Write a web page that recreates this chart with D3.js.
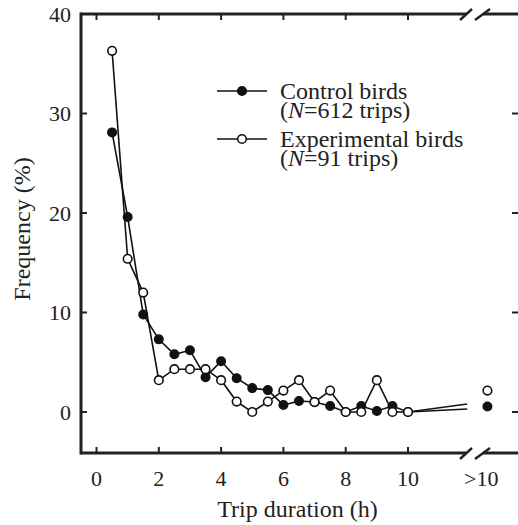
<!DOCTYPE html>
<html>
<head>
<meta charset="utf-8">
<script src="https://cdn.jsdelivr.net/npm/d3@7.9.0/dist/d3.min.js"></script>
<style>
  body { margin: 0; background: #fff; }
  svg { display: block; font-family: "Liberation Serif", "DejaVu Serif", serif; }
</style>
</head>
<body>
<div id="chart"></div>
<script>
// -------- data --------
const hours = [0.5, 1, 1.5, 2, 2.5, 3, 3.5, 4, 4.5, 5, 5.5, 6, 6.5, 7, 7.5, 8, 8.5, 9, 9.5, 10];
const controlPct = [28.1, 19.6, 9.8, 7.3, 5.8, 6.2, 3.5, 5.1, 3.4, 2.4, 2.2, 0.7, 1.1, 1.0, 0.6, 0.0, 0.6, 0.1, 0.6, 0.0];
const experimentalPct = [36.3, 15.4, 12.0, 3.2, 4.3, 4.3, 4.3, 3.2, 1.05, 0.0, 1.05, 2.15, 3.2, 1.0, 2.15, 0.0, 0.0, 3.2, 0.0, 0.0];
// lines trail off toward the axis break
const tailHour = 11.9;
const controlTail = 0.8;
const experimentalTail = 0.3;
// ">10 h" category
const overHour = 12.55;
const controlOver = 0.55;
const experimentalOver = 2.15;

const xTicks = [0, 2, 4, 6, 8, 10];
const overLabel = '>10';
const overLabelHour = 12.35;
const yTicks = [0, 10, 20, 30, 40];

const legendItems = [
  { filled: true, line1: 'Control birds', n: '612' },
  { filled: false, line1: 'Experimental birds', n: '91' }
];

// -------- layout --------
const width = 518, height = 525;
const box = { left: 81, right: 518, top: 14, bottom: 453 };

const x = d3.scaleLinear().domain([0, 10]).range([96.5, 408]);
const y = d3.scaleLinear().domain([0, 40]).range([412, 14]);

const svg = d3.select('#chart').append('svg')
  .attr('width', width).attr('height', height);

const ink = '#222';
const axisW = 3;
const tickLen = 6;
const breakL = 466, breakR = 483;
const tickFont = 22;
const titleFont = 24;

// frame: left axis
svg.append('line')
  .attr('x1', box.left).attr('x2', box.left)
  .attr('y1', box.top - axisW / 2).attr('y2', box.bottom + axisW / 2)
  .attr('stroke', ink).attr('stroke-width', axisW);

// top and bottom axes with break gaps
[box.top, box.bottom].forEach(yy => {
  svg.append('line')
    .attr('x1', box.left).attr('x2', breakL)
    .attr('y1', yy).attr('y2', yy)
    .attr('stroke', ink).attr('stroke-width', axisW);
  svg.append('line')
    .attr('x1', breakR).attr('x2', box.right)
    .attr('y1', yy).attr('y2', yy)
    .attr('stroke', ink).attr('stroke-width', axisW);
  // the double slash
  [[460, 472], [475, 490]].forEach(([a, b]) => {
    svg.append('line')
      .attr('x1', a).attr('y1', yy + 6)
      .attr('x2', b).attr('y2', yy - 5)
      .attr('stroke', ink).attr('stroke-width', 2.4);
  });
});

// x ticks (inward on top and bottom)
xTicks.forEach(t => {
  svg.append('line')
    .attr('x1', x(t)).attr('x2', x(t))
    .attr('y1', box.bottom).attr('y2', box.bottom - tickLen)
    .attr('stroke', ink).attr('stroke-width', 2);
  svg.append('line')
    .attr('x1', x(t)).attr('x2', x(t))
    .attr('y1', box.top).attr('y2', box.top + tickLen)
    .attr('stroke', ink).attr('stroke-width', 2);
  svg.append('text')
    .attr('x', x(t)).attr('y', 486)
    .attr('text-anchor', 'middle')
    .attr('font-size', tickFont).attr('fill', ink)
    .text(t);
});
svg.append('text')
  .attr('x', x(overLabelHour)).attr('y', 486)
  .attr('text-anchor', 'middle')
  .attr('font-size', tickFont).attr('fill', ink)
  .text(overLabel);

// y ticks (inward on left and right)
yTicks.forEach(t => {
  if (t !== 40) {
    svg.append('line')
      .attr('x1', box.left).attr('x2', box.left + tickLen)
      .attr('y1', y(t)).attr('y2', y(t))
      .attr('stroke', ink).attr('stroke-width', 2);
    svg.append('line')
      .attr('x1', box.right - tickLen).attr('x2', box.right)
      .attr('y1', y(t)).attr('y2', y(t))
      .attr('stroke', ink).attr('stroke-width', 2);
  }
  svg.append('text')
    .attr('x', 71).attr('y', y(t) + 7.5)
    .attr('text-anchor', 'end')
    .attr('font-size', tickFont).attr('fill', ink)
    .text(t);
});

// axis titles
svg.append('text')
  .attr('x', 297.5).attr('y', 516.5)
  .attr('text-anchor', 'middle')
  .attr('font-size', titleFont).attr('fill', ink)
  .text('Trip duration (h)');
svg.append('text')
  .attr('transform', 'translate(30, 229) rotate(-90)')
  .attr('text-anchor', 'middle')
  .attr('font-size', titleFont).attr('fill', ink)
  .text('Frequency (%)');

// -------- series --------
const line = d3.line().x(d => x(d[0])).y(d => y(d[1]));
const r = 4.3;

function drawSeries(vals, tail, over) {
  const pts = hours.map((h, i) => [h, vals[i]]);
  svg.append('path')
    .datum(pts.concat([[tailHour, tail]]))
    .attr('d', line)
    .attr('fill', 'none')
    .attr('stroke', '#111')
    .attr('stroke-width', 1.6);
  return pts.concat([[overHour, over]]);
}

const ctrlPts = drawSeries(controlPct, controlTail, controlOver);
const expPts = drawSeries(experimentalPct, experimentalTail, experimentalOver);

svg.append('g').selectAll('circle')
  .data(ctrlPts)
  .join('circle')
  .attr('cx', d => x(d[0])).attr('cy', d => y(d[1]))
  .attr('r', r)
  .attr('fill', '#111').attr('stroke', '#111').attr('stroke-width', 1.4);

svg.append('g').selectAll('circle')
  .data(expPts)
  .join('circle')
  .attr('cx', d => x(d[0])).attr('cy', d => y(d[1]))
  .attr('r', r)
  .attr('fill', '#fff').attr('stroke', '#111').attr('stroke-width', 1.6);

// -------- legend --------
const lg = svg.append('g');
legendItems.forEach((item, i) => {
  const ly = 91 + i * 48;
  lg.append('line')
    .attr('x1', 217).attr('x2', 267)
    .attr('y1', ly).attr('y2', ly)
    .attr('stroke', '#111').attr('stroke-width', 1.6);
  lg.append('circle')
    .attr('cx', 242).attr('cy', ly).attr('r', r)
    .attr('fill', item.filled ? '#111' : '#fff')
    .attr('stroke', '#111').attr('stroke-width', 1.6);
  lg.append('text')
    .attr('x', 280).attr('y', ly + 8)
    .attr('font-size', titleFont).attr('fill', ink)
    .text(item.line1);
  const t2 = lg.append('text')
    .attr('x', 280).attr('y', ly + 27)
    .attr('font-size', titleFont).attr('fill', ink);
  t2.append('tspan').text('(');
  t2.append('tspan').attr('font-style', 'italic').text('N');
  t2.append('tspan').text(`=${item.n} trips)`);
});
</script>
</body>
</html>
